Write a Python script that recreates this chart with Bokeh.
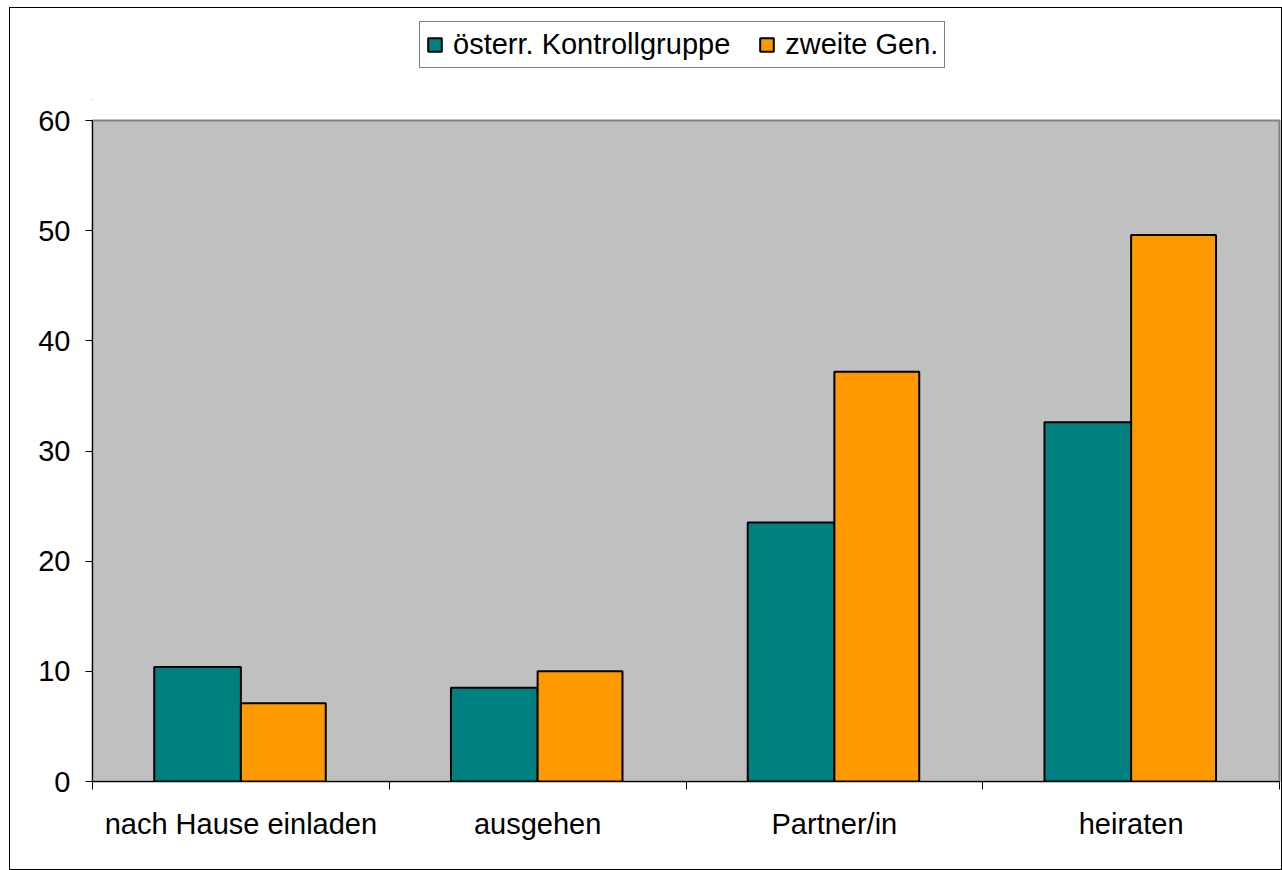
import numpy as np
from bokeh.plotting import figure
from bokeh.models import (ColumnDataSource, FixedTicker, Legend, LegendItem,
                          Range1d, Column)
from bokeh.embed import file_html
from bokeh.resources import INLINE

categories = ["nach Hause einladen", "ausgehen", "Partner/in", "heiraten"]
series_names = ["österr. Kontrollgruppe", "zweite Gen."]
kontroll = [10.4, 8.5, 23.5, 32.6]
zweite = [7.1, 10.0, 37.2, 49.6]
y_ticks = [0, 10, 20, 30, 40, 50, 60]

TEAL = "#008080"
ORANGE = "#FF9900"
FONT = "Liberation Sans"

idx = np.arange(len(categories))
centers = idx + 0.5
src = ColumnDataSource(dict(
    xk=centers - 0.146, xz=centers + 0.143, k=kontroll, z=zweite,
))

# ---- main chart ----
p = figure(width=1271, height=769, output_backend="svg", toolbar_location=None,
           x_range=Range1d(0, len(categories)), y_range=Range1d(0, 60),
           min_border_left=82, min_border_right=2, min_border_top=20,
           min_border_bottom=88)
p.background_fill_color = "#C0C0C0"
p.border_fill_color = "white"
p.outline_line_color = "#808080"
p.outline_line_width = 2
p.xgrid.visible = False
p.ygrid.visible = False

rk = p.vbar(x="xk", top="k", width=0.292, bottom=0, source=src,
            fill_color=TEAL, line_color="black", line_width=2)
rz = p.vbar(x="xz", top="z", width=0.286, bottom=0, source=src,
            fill_color=ORANGE, line_color="black", line_width=2)

xa = p.xaxis[0]
xa.ticker = FixedTicker(ticks=list(centers), minor_ticks=list(range(len(categories) + 1)))
xa.major_label_overrides = {float(c): lab for c, lab in zip(centers, categories)}
xa.major_tick_out = 0
xa.major_tick_in = 0
xa.minor_tick_out = 8
xa.minor_tick_in = 0
xa.minor_tick_line_color = "black"
xa.axis_line_color = "black"
xa.major_label_standoff = 18
xa.major_label_text_font = FONT
xa.major_label_text_font_size = "29px"
xa.major_label_text_color = "black"

ya = p.yaxis[0]
ya.ticker = FixedTicker(ticks=y_ticks, minor_ticks=[])
ya.major_tick_out = 7
ya.major_tick_in = 0
ya.major_tick_line_color = "black"
ya.axis_line_color = "black"
ya.major_label_standoff = 15
ya.major_label_text_font = FONT
ya.major_label_text_font_size = "29px"
ya.major_label_text_color = "black"

# ---- legend strip above the chart ----
top = figure(width=1271, height=92, output_backend="svg", toolbar_location=None,
             x_range=Range1d(0, 1), y_range=Range1d(0, 1),
             min_border=0, outline_line_color=None)
top.axis.visible = False
top.grid.visible = False
top.background_fill_color = "white"
top.border_fill_color = "white"
# legend proxies (kept outside the visible range)
proxy = ColumnDataSource(dict(x=[-5.0], top=[-5.0]))
lk = top.vbar(x="x", top="top", bottom=-6.0, width=0.1, source=proxy,
              fill_color=TEAL, line_color="black", line_width=2)
lz = top.vbar(x="x", top="top", bottom=-6.0, width=0.1, source=proxy,
              fill_color=ORANGE, line_color="black", line_width=2)

legend = Legend(items=[LegendItem(label=series_names[0], renderers=[lk]),
                       LegendItem(label=series_names[1], renderers=[lz])],
                orientation="horizontal", location=(327, 32),
                label_text_font=FONT, label_text_font_size="29px",
                label_text_color="black",
                glyph_width=17, glyph_height=17, label_standoff=10,
                spacing=28, padding=6, margin=0,
                border_line_color="black", border_line_width=1,
                background_fill_color="white", background_fill_alpha=1.0)
top.add_layout(legend, "center")

layout = Column(children=[top, p], spacing=0,
                styles={"border": "1px solid black", "margin-left": "9px",
                        "margin-top": "7px"})

open("out.html", "w").write(file_html(layout, INLINE))
